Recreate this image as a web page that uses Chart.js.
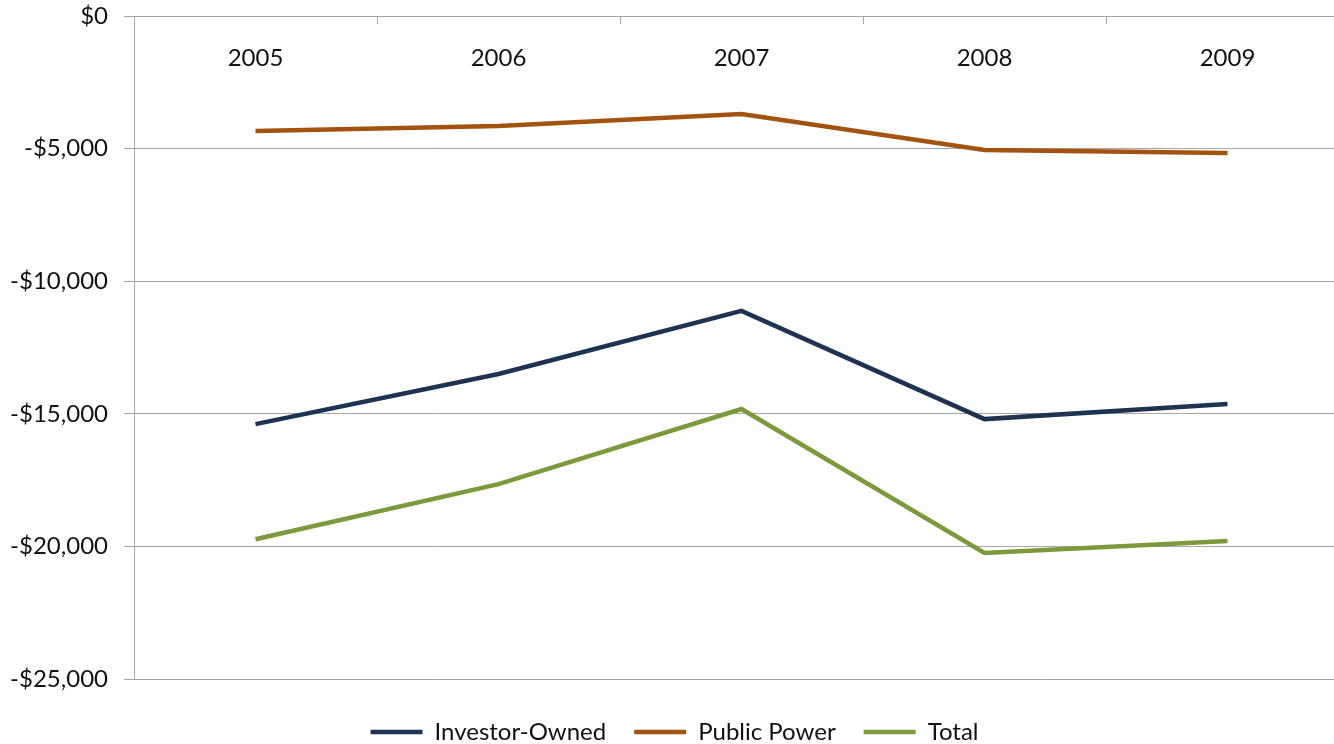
<!DOCTYPE html>
<html>
<head>
<meta charset="utf-8">
<script src="https://cdn.jsdelivr.net/npm/chart.js@4/dist/chart.umd.min.js"></script>
<style>
  html, body { margin: 0; padding: 0; background: #fff; overflow: hidden; }
  #wrap { width: 1350px; height: 744px; position: relative; }
</style>
</head>
<body>
<div id="wrap"><canvas id="c"></canvas></div>
<script>
// Net income by ownership type, 2005-2009 (thousands of dollars)
const years = ['2005', '2006', '2007', '2008', '2009'];
const investorOwned = [-15390, -13500, -11120, -15200, -14630];
const publicPower = [-4340, -4150, -3700, -5050, -5170];
const total = [-19730, -17650, -14820, -20250, -19800];
const yTicks = [0, -5000, -10000, -15000, -20000, -25000];

const FONT = 'Lato, "Open Sans", sans-serif';
const GRID = '#a6a6a6';

function money(v) {
  if (v === 0) return '$0';
  const s = Math.abs(v).toLocaleString('en-US');
  return (v < 0 ? '-$' : '$') + s;
}

function series(label, data, color) {
  return {
    label, data,
    borderColor: color, backgroundColor: color,
    borderWidth: 4.5, tension: 0,
    pointRadius: 0, pointHoverRadius: 0,
    borderJoinStyle: 'miter', borderCapStyle: 'butt'
  };
}

new Chart(document.getElementById('c'), {
  type: 'line',
  data: {
    labels: years,
    datasets: [
      series('Investor-Owned', investorOwned, '#1d3351'),
      series('Public Power', publicPower, '#a4520f'),
      series('Total', total, '#7a9a3c')
    ]
  },
  options: {
    responsive: true,
    maintainAspectRatio: false,
    animation: false,
    events: [],
    layout: { padding: { top: 0, right: 1, bottom: -10, left: 0 } },
    plugins: {
      tooltip: { enabled: false },
      title: { display: false },
      legend: {
        position: 'bottom',
        labels: {
          usePointStyle: true,
          pointStyle: 'line',
          pointStyleWidth: 52,
          boxHeight: 4,
          padding: 28,
          color: '#111',
          font: { family: FONT, size: 24 }
        }
      }
    },
    scales: {
      x: {
        position: 'top',
        offset: true,
        afterFit: (s) => { s.height = 16; },
        grid: {
          offset: true,
          drawOnChartArea: false,
          drawTicks: true,
          tickLength: -8,
          color: GRID
        },
        border: { display: true, color: GRID, width: 1 },
        ticks: {
          mirror: true,
          padding: 28,
          color: '#111',
          maxRotation: 0,
          font: { family: FONT, size: 24 }
        }
      },
      // empty band between the plot and the legend
      gap: {
        type: 'category',
        position: 'bottom',
        afterFit: (s) => { s.height = 13; },
        grid: { display: false },
        border: { display: false },
        ticks: { display: false }
      },
      y: {
        min: -25000,
        max: 0,
        afterFit: (s) => {
          s.width = 134;
          s.paddingTop = 0;
          s.paddingBottom = 0;
        },
        afterBuildTicks: (s) => { s.ticks = yTicks.map(v => ({ value: v })); },
        grid: { color: GRID, lineWidth: 1, tickLength: 10, drawTicks: true },
        border: { display: true, color: GRID, width: 1 },
        ticks: {
          padding: 16,
          color: '#111',
          font: { family: FONT, size: 24 },
          callback: (v) => money(v)
        }
      }
    }
  }
});
</script>
</body>
</html>
